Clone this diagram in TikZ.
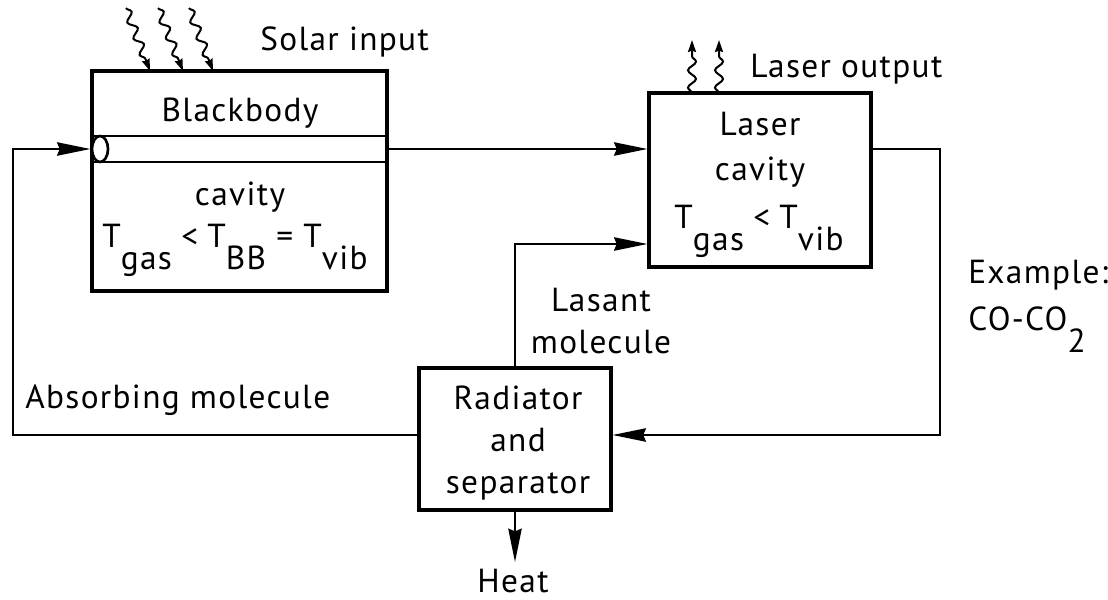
\documentclass[tikz,border=0pt]{standalone}
\usepackage{fontspec}
\setmainfont[LetterSpace=4]{PT Sans}
\usetikzlibrary{arrows.meta,decorations.pathmorphing}
\newcommand{\lo}[1]{\raisebox{-0.68em}{#1}}
\begin{document}
\begin{tikzpicture}[x=0.75pt,y=-0.75pt,
  box/.style={draw,line width=2.4pt,minimum width=#1},
  conn/.style={line width=1.7pt},
  arr/.style={conn,-{Stealth[length=25pt,width=10pt,inset=2pt]}},
  lbl/.style={font=\fontsize{25}{31.5}\selectfont,inner sep=0pt,anchor=base},
  wavy/.style={line width=1.5pt,decorate,decoration={snake,amplitude=3pt,segment length=13pt,post length=8pt},-{Stealth[length=9pt,width=6pt,inset=1pt]}}]
\useasboundingbox (0,0) rectangle (1108,600);
% boxes
\node[box=221.25pt,minimum height=165pt] (bb) at (239.5,181) {};
\node[box=166.5pt,minimum height=130.5pt] (laser) at (760,180) {};
\node[box=144pt,minimum height=106.5pt] (rad) at (515,439) {};
% tube in blackbody
\coordinate (tube) at (240,149);
\draw[line width=2pt] (92,136) -- (387,136) (92,162) -- (387,162);
\draw[line width=2pt,fill=white] (100,149) ellipse [x radius=8,y radius=13];
% texts in boxes
\node[lbl] (bbt1) at (240,121) {Blackbody};
\node[lbl] (bbt2) at (240,205) {cavity};
\node[lbl] (bbt3) at (235,247) {T\lo{gas}\;<\;T\lo{BB} = T\lo{vib}};
\node[lbl] (lt1) at (760,135) {Laser};
\node[lbl] (lt2) at (760,180) {cavity};
\node[lbl] (lt3) at (759,228) {T\lo{gas}\;<\;T\lo{vib}};
\node[lbl,align=center] (rt) at (518,493) {Radiator\\and\\separator};
% outside labels
\node[lbl,anchor=base west] (solar) at (260,50) {Solar input};
\node[lbl,anchor=base west] (lasout) at (750,77) {Laser output};
\node[lbl,anchor=base west] (ex1) at (968,283) {Example:};
\node[lbl,anchor=base west] (ex2) at (968,330) {CO-CO\lo{2}};
\node[lbl,anchor=base west] (abs) at (25,408) {Absorbing molecule};
\node[lbl,align=center] (lasant) at (601,353) {Lasant\\molecule};
\node[lbl] (heat) at (513,592) {Heat};
% connectors
\coordinate (cl) at (13,435);
\coordinate (cr) at (940,149);
\coordinate (cu) at (515,244);
\coordinate (hd) at (515,562);
\draw[arr] (bb.east |- tube) -- (laser.west |- tube);
\draw[arr] (rad.west |- cl) -- (cl) -- (cl |- tube) -- (bb.west |- tube);
\draw[arr] (rad.north) -- (cu) -- (laser.west |- cu);
\draw[arr] (laser.east |- cr) -- (cr) -- (cr |- cl) -- (rad.east |- cl);
\draw[arr] (rad.south) -- (hd);
% solar input squiggles
\coordinate (s1) at (150,71);
\coordinate (s2) at (183,71);
\coordinate (s3) at (213,71);
\draw[wavy] (126,8) -- (s1);
\draw[wavy] (158,8) -- (s2);
\draw[wavy] (189,8) -- (s3);
% laser output squiggles
\coordinate (o1) at (692,93);
\coordinate (o2) at (719,93);
\draw[wavy] (o1) -- (692,40);
\draw[wavy] (o2) -- (719,40);
\end{tikzpicture}
\end{document}
